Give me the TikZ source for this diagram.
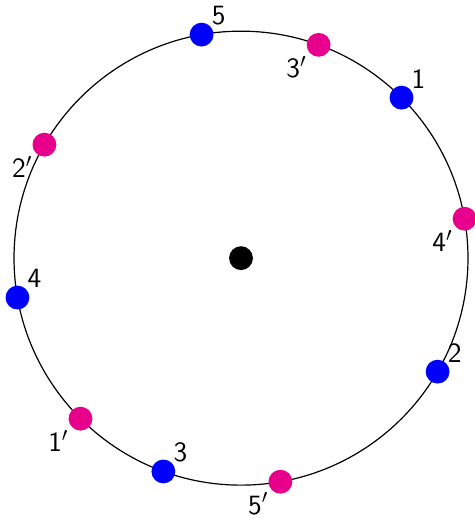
\documentclass[tikz,border=0pt]{standalone}
\usepackage{tikz}
\definecolor{ptblue}{RGB}{0, 0, 255}
\definecolor{ptpink}{RGB}{232, 0, 140}
\usetikzlibrary{arrows}

\begin{document}
\begin{tikzpicture}[x=1cm, y=1cm,
			bpt/.style={circle, fill=ptblue, minimum size=0.42cm, inner sep=0pt},
			ppt/.style={circle, fill=ptpink, minimum size=0.42cm, inner sep=0pt},
			lbl/.style={inner sep=0pt, font=\sffamily\fontsize{14}{16}\selectfont},
			scale=1]
			\useasboundingbox (-4.247,-4.579) rectangle (4.123,4.549); %Bildbereich
			% Kreis und Mittelpunkt
			\draw[black, line width=0.6pt] (0,0) circle (4);
			\node[circle, fill=black, minimum size=0.42cm, inner sep=0pt] (m) at (0,0) {};
			% Punkte 1..5
			\foreach \a/\n in {45/1,330/2,250/3,190/4,100/5}{
				\node[bpt] (b\n) at (\a:4) {};
				\node[lbl] (lb\n) at ([shift={(0.30,0.335)}]b\n) {\n};
			}
			% Gegenpunkte 1'..5'
			\foreach \a/\n in {225/1,150/2,70/3,10/4,280/5}{
				\node[ppt] (p\n) at (\a:4) {};
				\node[lbl] (lp\n) at ([shift={(-0.39,-0.39)}]p\n) {\n$'$};
			}
		\end{tikzpicture}
\end{document}
